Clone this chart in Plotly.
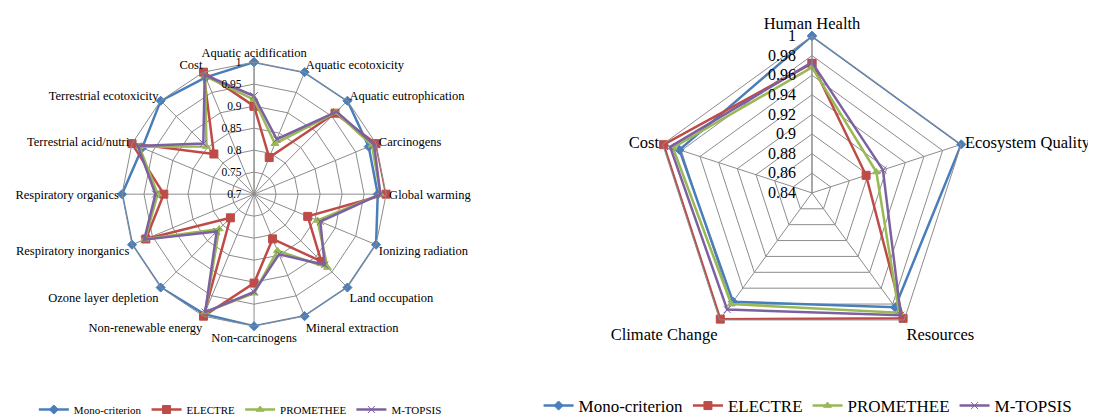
import plotly.graph_objects as go

# ── Data ──────────────────────────────────────────────────────
CATS_LEFT = [
    'Aquatic acidification', 'Aquatic ecotoxicity', 'Aquatic eutrophication',
    'Carcinogens', 'Global warming', 'Ionizing radiation', 'Land occupation',
    'Mineral extraction', 'Non-carcinogens', 'Non-renewable energy',
    'Ozone layer depletion', 'Respiratory inorganics', 'Respiratory organics',
    'Terrestrial acid/nutri', 'Terrestrial ecotoxicity', 'Cost',
]
MONO_L   = [1.0, 1.0, 1.0, 0.982, 0.981, 1.0, 1.0, 1.0, 1.0, 0.995, 1.0, 1.0, 1.0, 0.975, 1.0, 0.987]
ELECTRE_L = [0.90, 0.79, 0.96, 1.0, 1.0, 0.832, 0.916, 0.81, 0.902, 1.0, 0.776, 0.966, 0.905, 1.0, 0.829, 1.0]
PROMETHEE_L = [0.915, 0.824, 0.963, 0.99, 0.987, 0.856, 0.936, 0.839, 0.925, 0.99, 0.812, 0.968, 0.919, 0.982, 0.853, 0.99]
MTOPSIS_L = [0.923, 0.835, 0.965, 0.995, 0.987, 0.863, 0.927, 0.848, 0.922, 0.99, 0.82, 0.97, 0.924, 0.986, 0.863, 0.993]

CATS_RIGHT = ['Human Health', 'Ecosystem Quality', 'Resources', 'Climate Change', 'Cost']
MONO_R      = [1.0, 1.0, 0.984, 0.977, 0.982]
ELECTRE_R   = [0.972, 0.898, 0.998, 0.999, 0.999]
PROMETHEE_R = [0.968, 0.909, 0.991, 0.980, 0.989]
MTOPSIS_R   = [0.973, 0.916, 0.994, 0.987, 0.992]

TICKS_L = [0.7, 0.75, 0.8, 0.85, 0.9, 0.95, 1]
TICKS_R = [0.84, 0.86, 0.88, 0.9, 0.92, 0.94, 0.96, 0.98, 1]

NAMES = ['Mono-criterion', 'ELECTRE', 'PROMETHEE', 'M-TOPSIS']
COLS  = ['#4A7EBB', '#BE4B48', '#98B954', '#7D60A0']
SYMS  = ['diamond', 'square', 'triangle-up', 'x-thin-open']

FONT = 'Liberation Serif'

fig = go.Figure()


def close(v):
    return list(v) + [v[0]]


for i, (vals_l, vals_r) in enumerate(zip(
        [MONO_L, ELECTRE_L, PROMETHEE_L, MTOPSIS_L],
        [MONO_R, ELECTRE_R, PROMETHEE_R, MTOPSIS_R])):
    msize = 8 if SYMS[i] == 'square' else 7
    fig.add_trace(go.Scatterpolar(
        r=close(vals_l), theta=close(CATS_LEFT), mode='lines+markers',
        name=NAMES[i], subplot='polar', legend='legend',
        line=dict(color=COLS[i], width=2.5),
        marker=dict(symbol=SYMS[i], size=msize, color=COLS[i],
                    line=dict(color=COLS[i], width=1)),
    ))
    fig.add_trace(go.Scatterpolar(
        r=close(vals_r), theta=close(CATS_RIGHT), mode='lines+markers',
        name=NAMES[i], subplot='polar2', legend='legend2',
        line=dict(color=COLS[i], width=2.5),
        marker=dict(symbol=SYMS[i], size=msize, color=COLS[i],
                    line=dict(color=COLS[i], width=1)),
    ))


def polar(domain_x, domain_y, rng, ticks, fs_ang, fs_rad, pad):
    return dict(
        domain=dict(x=domain_x, y=domain_y),
        bgcolor='white',
        gridshape='linear',
        angularaxis=dict(
            rotation=90, direction='clockwise',
            linecolor='#8c8c8c', linewidth=1,
            gridcolor='#8c8c8c', gridwidth=1,
            ticks='', tickfont=dict(family=FONT, size=fs_ang, color='black'),
        ),
        radialaxis=dict(
            range=rng, tickvals=ticks,
            ticktext=[f'{t:g}' for t in ticks],
            angle=90, tickangle=90, side='counterclockwise',
            showline=True, linecolor='#8c8c8c', linewidth=1,
            gridcolor='#8c8c8c', gridwidth=1,
            ticks='outside', ticklen=pad, tickcolor='rgba(0,0,0,0)',
            tickfont=dict(family=FONT, size=fs_rad, color='black'),
        ),
    )


fig.update_layout(
    width=1096, height=416,
    paper_bgcolor='white',
    margin=dict(l=0, r=0, t=0, b=0),
    polar=polar([0.104, 0.345], [0.235, 0.870], [0.7, 1], TICKS_L, 12.5, 11.5, 8),
    polar2=polar([0.5903, 0.8768], [0.178, 0.933], [0.84, 1], TICKS_R, 16.5, 16, 10),
    legend=dict(
        orientation='h', x=0.212, y=0.0, xanchor='center', yanchor='bottom',
        font=dict(family=FONT, size=11, color='black'),
        bgcolor='rgba(0,0,0,0)', itemwidth=30, tracegroupgap=0,
    ),
    legend2=dict(
        orientation='h', x=0.73, y=0.0, xanchor='center', yanchor='bottom',
        font=dict(family=FONT, size=17, color='black'),
        bgcolor='rgba(0,0,0,0)', itemwidth=30, tracegroupgap=0,
    ),
)

fig.write_html('out.html')
